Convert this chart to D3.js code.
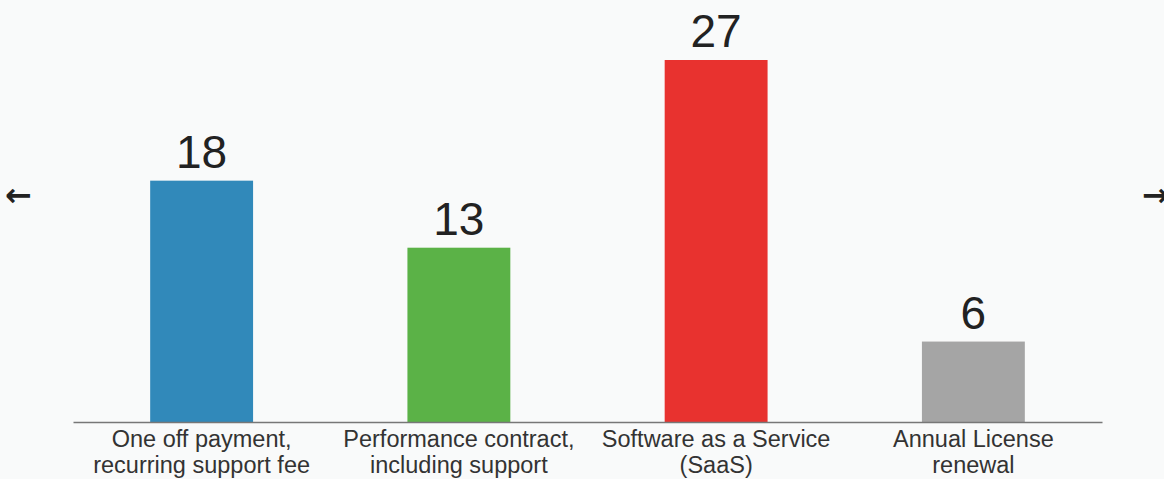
<!DOCTYPE html>
<html>
<head>
<meta charset="utf-8">
<script src="https://cdn.jsdelivr.net/npm/d3@7/dist/d3.min.js"></script>
<style>
	html, body { margin: 0; padding: 0; background: #f9fafa; }
	svg { display: block; }
</style>
</head>
<body>
<div id="chart"></div>
<script>
	// data
	var categories = ['One off payment,\nrecurring support fee', 'Performance contract,\nincluding support', 'Software as a Service\n(SaaS)', 'Annual License\nrenewal'];
	var values = [18, 13, 27, 6];
	var barColors = ['#3189ba', '#5bb247', '#e8322f', '#a5a5a5'];

	var pageWidth = 1164;
	var pageHeight = 479;
	var margin = { top: 60, right: 62, bottom: 57, left: 73 };

	var svg = d3.select('#chart')
		.append('svg')
		.attr('width', pageWidth)
		.attr('height', pageHeight);

	var xScale = d3.scaleBand()
		.domain(categories)
		.range([margin.left, pageWidth - margin.right])
		.paddingInner(0.6)
		.paddingOuter(0.3);

	var yScale = d3.scaleLinear()
		.domain([0, d3.max(values)])
		.range([pageHeight - margin.bottom, margin.top]);

	var rows = categories.map(function(c, i) { return { cat: c, val: values[i], color: barColors[i] }; });

	// bars
	svg.selectAll('.bar')
		.data(rows)
		.enter().append('rect')
			.attr('class', 'bar')
			.attr('x', function(d) { return xScale(d.cat) })
			.attr('y', function(d) { return yScale(d.val) })
			.attr('width', xScale.bandwidth())
			.attr('height', function(d) { return yScale(0) - yScale(d.val) })
			.attr('fill', function(d) { return d.color });

	// value labels
	svg.selectAll('.value')
		.data(rows)
		.enter().append('text')
			.attr('class', 'value')
			.attr('x', function(d) { return xScale(d.cat) + xScale.bandwidth() / 2 })
			.attr('y', function(d) { return yScale(d.val) - 13 })
			.attr('text-anchor', 'middle')
			.style('font-family', 'Liberation Sans, Arial, sans-serif')
			.style('font-size', '46px')
			.attr('fill', '#222')
			.text(function(d) { return d.val });

	// x axis
	var xAxis = svg.append('g')
		.attr('transform', 'translate(0,' + yScale(0) + ')')
		.call(d3.axisBottom(xScale).tickSize(0).tickFormat(''));

	xAxis.select('.domain')
		.attr('stroke', '#777')
		.attr('stroke-width', 1.5);

	xAxis.selectAll('.tick text').remove();

	xAxis.selectAll('.tick').each(function(d) {
		var t = d3.select(this).append('text')
			.attr('text-anchor', 'middle')
			.attr('fill', '#333')
			.style('font-family', 'Liberation Sans, Arial, sans-serif')
			.style('font-size', '23.5px');
		d.split('\n').forEach(function(line, i) {
			t.append('tspan')
				.attr('x', 0)
				.attr('y', 25 + i * 26)
				.text(line);
		});
	});

	// nav arrows
	var arrows = [{ x: 5, ch: '←' }, { x: 1142, ch: '→' }];
	svg.selectAll('.nav')
		.data(arrows)
		.enter().append('text')
			.attr('class', 'nav')
			.attr('x', function(d) { return d.x })
			.attr('y', 206)
			.attr('fill', '#222')
			.style('font-family', 'DejaVu Sans, sans-serif')
			.style('font-size', '32px')
			.style('font-weight', 'bold')
			.text(function(d) { return d.ch });
</script>
</body>
</html>
